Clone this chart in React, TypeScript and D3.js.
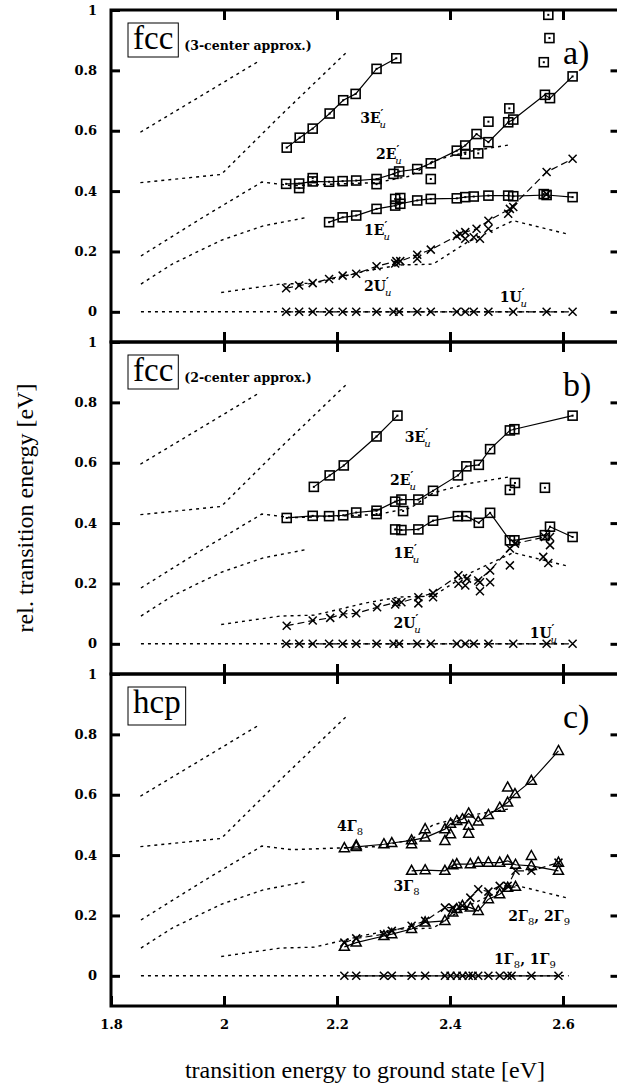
import React, { useEffect, useRef } from "react";
import * as d3 from "d3";

// tick values
const xTicks = [1.8, 2, 2.2, 2.4, 2.6];
const yTicks = [0, 0.2, 0.4, 0.6, 0.8, 1];

// x positions of the structures (fcc and hcp)
const fccX = [2.11, 2.133, 2.157, 2.186, 2.21, 2.234, 2.27, 2.3, 2.31, 2.342, 2.366, 2.412, 2.427, 2.442, 2.468, 2.512, 2.571, 2.617];
const hcpX = [2.213, 2.234, 2.283, 2.297, 2.332, 2.356, 2.391, 2.401, 2.412, 2.422, 2.433, 2.44, 2.45, 2.468, 2.488, 2.502, 2.509, 2.544, 2.592];

// dotted reference curves (same in every panel)
const refA = [[1.852, 0.595], [1.95, 0.705], [2.063, 0.832]];
const refB = [[1.852, 0.428], [1.995, 0.455], [2.1, 0.65], [2.218, 0.862]];
const refC = [[1.853, 0.185], [1.96, 0.31], [2.067, 0.43], [2.12, 0.418], [2.27, 0.428], [2.33, 0.45], [2.37, 0.5], [2.43, 0.53], [2.505, 0.553]];
const refD = [[1.853, 0.092], [1.91, 0.16], [1.995, 0.237], [2.07, 0.285], [2.145, 0.312]];
const refE = [[1.995, 0.064], [2.1, 0.092], [2.16, 0.095], [2.25, 0.135], [2.31, 0.155], [2.37, 0.158], [2.43, 0.23], [2.512, 0.302], [2.607, 0.258]];
const refZero = [[1.853, 0], [2.61, 0]];

// panel a) fcc, 3-center approx.
const a3E = [[2.111, 0.544], [2.134, 0.577], [2.157, 0.607], [2.187, 0.657], [2.211, 0.701], [2.233, 0.722], [2.27, 0.805], [2.305, 0.84]];
const a2E = [[2.11, 0.424], [2.133, 0.425], [2.157, 0.432], [2.186, 0.431], [2.21, 0.433], [2.234, 0.435], [2.27, 0.44], [2.3, 0.457], [2.31, 0.465], [2.342, 0.473], [2.366, 0.492], [2.412, 0.534], [2.427, 0.551], [2.447, 0.589], [2.468, 0.562], [2.503, 0.628], [2.512, 0.637], [2.568, 0.719], [2.577, 0.708], [2.617, 0.78]];
const a2Ex = [[2.133, 0.41], [2.157, 0.443], [2.27, 0.423], [2.366, 0.44], [2.427, 0.523], [2.45, 0.525], [2.468, 0.63], [2.505, 0.674], [2.566, 0.827], [2.576, 0.907], [2.574, 0.984]];
const a1E = [[2.186, 0.297], [2.21, 0.313], [2.234, 0.319], [2.27, 0.341], [2.303, 0.352], [2.312, 0.358], [2.342, 0.369], [2.366, 0.374], [2.412, 0.376], [2.427, 0.38], [2.442, 0.382], [2.468, 0.385], [2.503, 0.385], [2.512, 0.383], [2.571, 0.387], [2.617, 0.38]];
const a1Ex = [[2.303, 0.374], [2.312, 0.377], [2.566, 0.39]];
const a2U = [[2.11, 0.078], [2.133, 0.087], [2.157, 0.095], [2.186, 0.109], [2.21, 0.12], [2.234, 0.126], [2.27, 0.151], [2.305, 0.168], [2.312, 0.168], [2.342, 0.189], [2.366, 0.206], [2.412, 0.251], [2.427, 0.264], [2.447, 0.275], [2.468, 0.302], [2.506, 0.341], [2.571, 0.463], [2.617, 0.507]];
const a2Ux = [[2.303, 0.16], [2.342, 0.176], [2.418, 0.258], [2.427, 0.242], [2.442, 0.247], [2.453, 0.242], [2.468, 0.275], [2.503, 0.325], [2.512, 0.347], [2.571, 0.39]];

// panel b) fcc, 2-center approx.
const b3E = [[2.159, 0.52], [2.187, 0.558], [2.212, 0.591], [2.27, 0.687], [2.307, 0.756]];
const b2E = [[2.111, 0.417], [2.157, 0.424], [2.186, 0.423], [2.211, 0.426], [2.234, 0.435], [2.27, 0.441], [2.303, 0.471], [2.314, 0.478], [2.344, 0.478], [2.37, 0.507], [2.414, 0.558], [2.429, 0.588], [2.451, 0.593], [2.471, 0.645], [2.506, 0.707], [2.514, 0.711], [2.617, 0.756]];
const b2Ex = [[2.27, 0.43], [2.317, 0.44], [2.506, 0.51], [2.515, 0.533], [2.568, 0.517]];
const b1E = [[2.303, 0.379], [2.314, 0.377], [2.344, 0.379], [2.37, 0.408], [2.414, 0.423], [2.429, 0.423], [2.451, 0.401], [2.471, 0.434], [2.506, 0.343], [2.514, 0.343], [2.568, 0.36], [2.577, 0.388], [2.617, 0.354]];
const b2U = [[2.111, 0.06], [2.157, 0.077], [2.188, 0.086], [2.211, 0.099], [2.234, 0.101], [2.271, 0.121], [2.305, 0.138], [2.314, 0.138], [2.344, 0.154], [2.37, 0.168], [2.415, 0.227], [2.43, 0.216], [2.45, 0.21], [2.471, 0.243], [2.506, 0.316], [2.515, 0.332], [2.568, 0.354], [2.577, 0.354]];
const b2Ux = [[2.303, 0.13], [2.344, 0.134], [2.37, 0.154], [2.415, 0.199], [2.427, 0.193], [2.453, 0.204], [2.453, 0.174], [2.471, 0.204], [2.506, 0.26], [2.565, 0.288], [2.577, 0.327], [2.574, 0.268]];

// panel c) hcp
const c4G = [[2.213, 0.423], [2.234, 0.427], [2.283, 0.436], [2.297, 0.44], [2.332, 0.449], [2.356, 0.458], [2.391, 0.486], [2.401, 0.504], [2.412, 0.513], [2.422, 0.519], [2.433, 0.538], [2.45, 0.511], [2.468, 0.533], [2.488, 0.557], [2.502, 0.574], [2.515, 0.602], [2.544, 0.646], [2.592, 0.745]];
const c4Gx = [[2.234, 0.432], [2.332, 0.436], [2.356, 0.486], [2.391, 0.447], [2.401, 0.469], [2.433, 0.497], [2.433, 0.471], [2.502, 0.624]];
const c3G = [[2.332, 0.348], [2.356, 0.35], [2.391, 0.348], [2.405, 0.366], [2.412, 0.37], [2.436, 0.37], [2.45, 0.375], [2.468, 0.375], [2.488, 0.375], [2.502, 0.381], [2.516, 0.368], [2.544, 0.364], [2.592, 0.348]];
const c3Gx = [[2.544, 0.397], [2.592, 0.375]];
const c2G = [[2.213, 0.096], [2.234, 0.11], [2.283, 0.132], [2.297, 0.138], [2.332, 0.155], [2.356, 0.177], [2.391, 0.182], [2.405, 0.21], [2.412, 0.221], [2.422, 0.232], [2.436, 0.226], [2.45, 0.215], [2.468, 0.254], [2.488, 0.27], [2.502, 0.292], [2.516, 0.295]];
const c2Gx = [[2.213, 0.11], [2.234, 0.124], [2.283, 0.138], [2.297, 0.149], [2.332, 0.166], [2.356, 0.182], [2.391, 0.226], [2.405, 0.226], [2.422, 0.232], [2.436, 0.259], [2.45, 0.287], [2.468, 0.279], [2.488, 0.298], [2.502, 0.298], [2.516, 0.348], [2.544, 0.348], [2.592, 0.375]];

const serif = "'Liberation Serif', 'DejaVu Serif', serif";
const bold = "'DejaVu Serif', serif";

export default function App() {
  const ref = useRef(null);

  useEffect(() => {
    draw();
  }, []);

  let draw = () => {
    let svg = d3.select(ref.current);
    svg.selectAll("*").remove();

    let width = 617;
    let height = 1086;
    let panelH = 332;
    let tops = [10, 342, 674];

    let x = d3.scaleLinear().domain([1.8, 2.7]).range([111, 619.5]);

    let zeros = (xs) => xs.map((v) => [v, 0]);

    let panels = [
      {
        tag: "fcc",
        note: "(3-center approx.)",
        letter: "a)",
        solid: [[a3E, "sq"], [a2E, "sq"], [a1E, "sq"]],
        dashed: [[a2U, "x"], [zeros(fccX), "x"]],
        points: [[a2Ex, "sq"], [a1Ex, "sq"], [a2Ux, "x"]],
        labels: [
          [2.241, 0.626, [["3E", ""], ["′", "sup"], ["u", "subu"]]],
          [2.269, 0.507, [["2E", ""], ["′", "sup"], ["u", "subu"]]],
          [2.248, 0.255, [["1E", ""], ["′", "sup"], ["u", "subu"]]],
          [2.248, 0.07, [["2U", ""], ["′", "sup"], ["u", "subu"]]],
          [2.488, 0.033, [["1U", ""], ["′", "sup"], ["u", "subu"]]],
        ],
      },
      {
        tag: "fcc",
        note: "(2-center approx.)",
        letter: "b)",
        solid: [[b3E, "sq"], [b2E, "sq"], [b1E, "sq"]],
        dashed: [[b2U, "x"], [zeros(fccX), "x"]],
        points: [[b2Ex, "sq"], [b2Ux, "x"]],
        labels: [
          [2.32, 0.67, [["3E", ""], ["′", "sup"], ["u", "subu"]]],
          [2.294, 0.527, [["2E", ""], ["′", "sup"], ["u", "subu"]]],
          [2.3, 0.283, [["1E", ""], ["′", "sup"], ["u", "subu"]]],
          [2.3, 0.053, [["2U", ""], ["′", "sup"], ["u", "subu"]]],
          [2.541, 0.02, [["1U", ""], ["′", "sup"], ["u", "subu"]]],
        ],
      },
      {
        tag: "hcp",
        note: "",
        letter: "c)",
        solid: [[c4G, "tri"], [c3G, "tri"], [c2G, "tri"], [zeros(hcpX), "x"]],
        dashed: [[c2Gx, "x"]],
        points: [[c4Gx, "tri"], [c3Gx, "tri"]],
        labels: [
          [2.2, 0.48, [["4Γ", ""], ["8", "sub"]]],
          [2.3, 0.281, [["3Γ", ""], ["8", "sub"]]],
          [2.503, 0.182, [["2Γ", ""], ["8", "sub"], [", 2Γ", ""], ["9", "sub"]]],
          [2.478, 0.04, [["1Γ", ""], ["8", "sub"], [", 1Γ", ""], ["9", "sub"]]],
        ],
      },
    ];

    panels.forEach((p, i) => {
      let top = tops[i];
      let y = d3.scaleLinear().domain([-0.1, 1]).range([top + panelH, top]);
      let g = svg.append("g");

      let line = d3
        .line()
        .x((d) => x(d[0]))
        .y((d) => y(d[1]));

      // dotted reference curves
      [refA, refB, refC, refD, refE, refZero].forEach((r) => {
        g.append("path")
          .attr("d", line(r))
          .attr("fill", "none")
          .attr("stroke", "#000")
          .attr("stroke-width", 1.4)
          .attr("stroke-dasharray", "3,4");
      });

      p.dashed.forEach(([data]) => {
        g.append("path")
          .attr("d", line(data))
          .attr("fill", "none")
          .attr("stroke", "#000")
          .attr("stroke-width", 1.2)
          .attr("stroke-dasharray", "7,4");
      });

      p.solid.forEach(([data]) => {
        g.append("path")
          .attr("d", line(data))
          .attr("fill", "none")
          .attr("stroke", "#000")
          .attr("stroke-width", 1.2);
      });

      let markers = (data, type) => {
        if (type === "sq") {
          g.selectAll(null)
            .data(data)
            .enter()
            .append("rect")
            .attr("x", (d) => x(d[0]) - 4.5)
            .attr("y", (d) => y(d[1]) - 4.5)
            .attr("width", 9)
            .attr("height", 9)
            .attr("fill", "none")
            .attr("stroke", "#000")
            .attr("stroke-width", 1.6);
          g.selectAll(null)
            .data(data)
            .enter()
            .append("rect")
            .attr("x", (d) => x(d[0]) - 1)
            .attr("y", (d) => y(d[1]) - 1)
            .attr("width", 2)
            .attr("height", 2)
            .attr("fill", "#000");
        } else if (type === "x") {
          g.selectAll(null)
            .data(data)
            .enter()
            .append("path")
            .attr("d", (d) => {
              let cx = x(d[0]);
              let cy = y(d[1]);
              return `M${cx - 4},${cy - 4}L${cx + 4},${cy + 4}M${cx - 4},${cy + 4}L${cx + 4},${cy - 4}`;
            })
            .attr("stroke", "#000")
            .attr("stroke-width", 1.5);
        } else {
          g.selectAll(null)
            .data(data)
            .enter()
            .append("path")
            .attr("d", (d) => {
              let cx = x(d[0]);
              let cy = y(d[1]);
              return `M${cx},${cy - 5.5}L${cx + 5},${cy + 3.5}L${cx - 5},${cy + 3.5}Z`;
            })
            .attr("fill", "none")
            .attr("stroke", "#000")
            .attr("stroke-width", 1.5);
        }
      };

      p.solid.forEach(([data, type]) => markers(data, type));
      p.dashed.forEach(([data, type]) => markers(data, type));
      p.points.forEach(([data, type]) => markers(data, type));

      // series labels
      p.labels.forEach(([lx, ly, parts]) => {
        let t = g
          .append("text")
          .attr("x", x(lx))
          .attr("y", y(ly))
          .attr("font-family", bold)
          .attr("font-weight", "bold")
          .attr("font-size", 14);
        let shift = 0;
        parts.forEach(([s, k]) => {
          let target = k === "sup" ? -6 : k === "subu" ? 5 : k === "sub" ? 4 : 0;
          let ts = t.append("tspan").attr("dy", target - shift).text(s);
          shift = target;
          if (k === "sup") ts.attr("font-size", 11);
          if (k === "sub") ts.attr("font-size", 10).attr("font-weight", "normal");
          if (k === "subu")
            ts.attr("font-size", 10)
              .attr("dx", -4)
              .attr("font-style", "italic")
              .attr("font-weight", "normal");
        });
      });

      // axes
      let left = g
        .append("g")
        .attr("transform", `translate(${x(1.8)},0)`)
        .call(
          d3
            .axisLeft(y)
            .tickValues(yTicks)
            .tickSize(-9)
            .tickPadding(14)
            .tickFormat((d) => String(d))
        );
      left.selectAll("text")
        .attr("font-family", bold)
        .attr("font-weight", "bold")
        .attr("font-size", 13)
        .attr("fill", "#000");

      g.append("g")
        .attr("transform", `translate(${x(2.7)},0)`)
        .call(d3.axisRight(y).tickValues(yTicks.slice(0, 5)).tickSize(-9).tickFormat(() => ""));

      g.append("g")
        .attr("transform", `translate(0,${top})`)
        .call(d3.axisTop(x).tickValues(xTicks.slice(1)).tickSize(-10).tickFormat(() => ""));

      let bottom = g
        .append("g")
        .attr("transform", `translate(0,${top + panelH})`)
        .call(
          d3
            .axisBottom(x)
            .tickValues(i === 2 ? xTicks : xTicks.slice(1))
            .tickSize(-10)
            .tickPadding(14)
            .tickFormat((d) => (i === 2 ? String(d) : ""))
        );
      bottom.selectAll("text")
        .attr("font-family", bold)
        .attr("font-weight", "bold")
        .attr("font-size", 13)
        .attr("fill", "#000");

      g.selectAll(".domain").remove();
      g.selectAll(".tick line").attr("stroke", "#000").attr("stroke-width", 3);

      g.append("rect")
        .attr("x", x(1.8))
        .attr("y", top)
        .attr("width", x(2.7) - x(1.8))
        .attr("height", panelH)
        .attr("fill", "none")
        .attr("stroke", "#000")
        .attr("stroke-width", 3);

      // boxed structure tag
      let tag = g
        .append("text")
        .attr("x", 133)
        .attr("y", top + 39)
        .attr("font-family", serif)
        .attr("font-size", 33)
        .text(p.tag);
      let bb = tag.node().getBBox();
      g.append("rect")
        .attr("x", bb.x - 5)
        .attr("y", top + 13)
        .attr("width", bb.width + 10)
        .attr("height", p.tag === "hcp" ? 38 : 34)
        .attr("fill", "none")
        .attr("stroke", "#000")
        .attr("stroke-width", 1);

      if (p.note) {
        g.append("text")
          .attr("x", bb.x + bb.width + 11)
          .attr("y", top + 40)
          .attr("font-family", bold)
          .attr("font-weight", "bold")
          .attr("font-size", 12.5)
          .text(p.note);
      }

      g.append("text")
        .attr("x", 563)
        .attr("y", top + 54)
        .attr("font-family", serif)
        .attr("font-size", 34)
        .text(p.letter);
    });

    svg.append("text")
      .attr("transform", `translate(33,${508}) rotate(-90)`)
      .attr("text-anchor", "middle")
      .attr("font-family", serif)
      .attr("font-size", 24)
      .text("rel. transition energy [eV]");

    svg.append("text")
      .attr("x", 365)
      .attr("y", 1078)
      .attr("text-anchor", "middle")
      .attr("font-family", serif)
      .attr("font-size", 24)
      .text("transition energy to ground state [eV]");
  };

  return (
    <svg
      ref={ref}
      width={617}
      height={1086}
      style={{ position: "absolute", left: 0, top: 0, background: "#fff" }}
    ></svg>
  );
}
